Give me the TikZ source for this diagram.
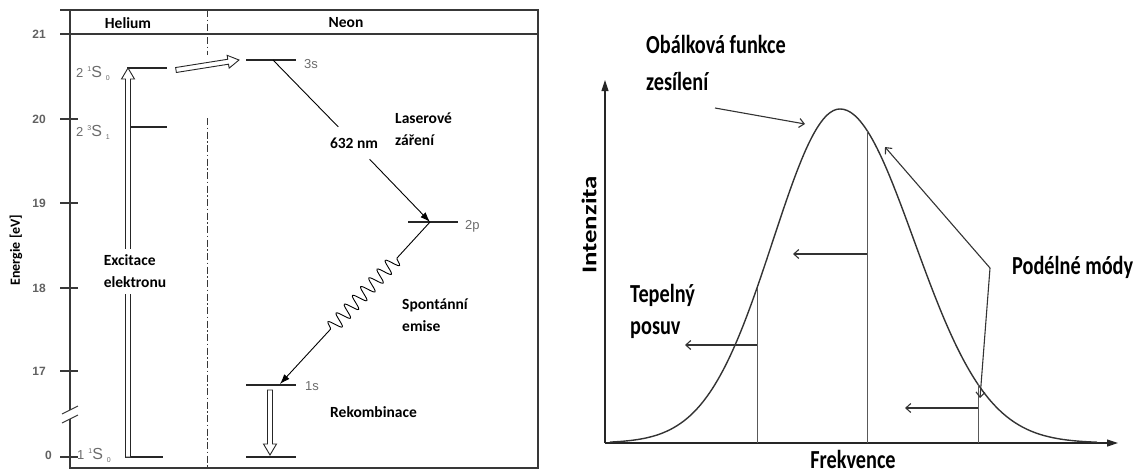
\documentclass[tikz,border=0pt]{standalone}
\usepackage{fontspec}
\setmainfont{Carlito}
\newfontfamily\squeezed[FakeStretch=0.78]{Carlito}
\newfontfamily\widened[FakeStretch=1.28]{Carlito}
\newfontfamily\arialish{Liberation Sans}
\usepackage{tikz}
\usetikzlibrary{arrows.meta,calc,decorations.pathmorphing}
\tikzset{
  frame/.style   ={draw=black!78, line width=1.3pt},
  dashdot/.style ={draw=black!78, line width=1pt,
                   dash pattern=on 7pt off 2.5pt on 1.5pt off 2.5pt},
  level/.style   ={draw=black!85, line width=1.1pt},
  ticklbl/.style ={font=\arialish\bfseries\fontsize{12}{14}\selectfont,
                   text=black!62, anchor=east, inner sep=0pt},
  statetxt/.style={font=\arialish\fontsize{13}{15}\selectfont,
                   text=black!58, anchor=west, inner sep=0pt},
  nelbl/.style   ={font=\arialish\fontsize{13}{15}\selectfont,
                   text=black!58, anchor=west, inner sep=0pt},
  lbl/.style     ={font=\bfseries\fontsize{15.5}{22}\selectfont,
                   align=left, inner sep=1pt},
  biglbl/.style  ={font=\squeezed\bfseries\fontsize{26}{37}\selectfont,
                   align=left, inner sep=0pt},
  hollowarr/.style={draw=black!85, fill=white, line width=0.9pt,
                   line join=miter},
  laser/.style   ={-{Latex[length=10pt,width=7pt]}, line width=0.9pt},
  axis/.style    ={-{Triangle[length=11pt,width=7pt]}, line width=1.1pt,
                   draw=black!85},
  note/.style    ={line width=1.1pt, draw=black!80},
  barb/.style    ={-{Straight Barb[length=5pt,width=9pt]}},
  mode/.style    ={draw=black!65, line width=1pt},
  curve/.style   ={draw=black!80, line width=1.4pt},
}
% term symbol  2 ^1S _0
\newcommand\term[3]{#1\hspace{4pt}\raisebox{6pt}{\fontsize{7}{8}\selectfont #2}%
  {\fontsize{16}{18}\selectfont S}\hspace{4pt}\raisebox{-3pt}{\fontsize{7}{8}\selectfont #3}}
% hollow (outlined) arrow from #1 to #2
\newcommand\hollowarrow[2]{%
  \path ($(#2)!11pt!(#1)$) coordinate (hbase);
  \draw[hollowarr] ($(#1)!2.5pt!90:(#2)$) -- ($(hbase)!2.5pt!-90:(#1)$)
    -- ($(hbase)!6.5pt!-90:(#1)$) -- (#2) -- ($(hbase)!6.5pt!90:(#1)$)
    -- ($(hbase)!2.5pt!90:(#1)$) -- ($(#1)!2.5pt!-90:(#2)$) -- cycle;
}

\begin{document}
\begin{tikzpicture}[x=1pt, y=-1pt]
  \useasboundingbox (0,0) rectangle (1147,475);

  % ---- energy levels He-Ne ----
  \draw[frame] (60,10) -- (538,10) -- (538,468) -- (70,468) -- (70,419);
  \draw[frame] (70,410) -- (70,10);
  \draw[frame] (60,34) -- (538,34);
  \draw[frame, line width=1pt] (62,414) -- (78,406) (62,423) -- (78,415);
  \draw[dashdot] (207,10) -- (207,55);
  \draw[dashdot] (207,118) -- (207,468);
  \node[lbl] (hel) at (128,23) {Helium};
  \node[lbl] (neo) at (346,23) {Neon};
  \node[lbl, font=\bfseries\fontsize{14}{16}\selectfont, rotate=90] (en) at (16,250) {Energie [eV]};

  \foreach \v/\y in {21/34, 20/119, 19/203, 18/288, 17/371}{
    \draw[frame] (60,\y) -- (78,\y);
    \node[ticklbl, name=t\v] at (46,\y) {\v};
  }
  \draw[frame] (60,457) -- (78,457);
  \node[ticklbl] (t0) at (52,455) {0};

  % helium levels
  \draw[level] (127,68) -- (167,68);
  \draw[level] (127,127) -- (167,127);
  \draw[level] (125,457) -- (163,457);
  \node[statetxt] (s21) at (76,73) {\term{2}{1}{0}};
  \node[statetxt] (s23) at (76,132) {\term{2}{3}{1}};
  \node[statetxt] (s11) at (77,455) {\term{1}{1}{0}};
  \coordinate (hegr) at (128,457);
  \coordinate (hex) at (128,68);
  \hollowarrow{hegr}{hex}
  \node[lbl, fill=white, inner ysep=6pt] (exc) at (135,271) {Excitace\\elektronu};

  % transfer He -> Ne
  \coordinate (tra) at (176,70);
  \coordinate (trb) at (239,60);
  \hollowarrow{tra}{trb}

  % neon levels
  \draw[level] (246,60) -- (296,60);
  \draw[level] (408,222) -- (458,222);
  \draw[level] (246,385) -- (296,385);
  \draw[level] (246,457) -- (296,457);
  \node[nelbl] (l3s) at (304,64) {3s};
  \node[nelbl] (l2p) at (465,226) {2p};
  \node[nelbl] (l1s) at (305,386) {1s};
  \coordinate (n3s) at (273,60);
  \coordinate (n2p) at (430,222);
  \coordinate (n1s) at (280,384);
  \coordinate (n1sb) at (270,390);
  \coordinate (ngr) at (270,455);

  \node[lbl, minimum height=32pt, minimum width=54pt] (nm) at (354,143) {632 nm};
  \draw[line width=0.9pt] (n3s) -- (nm);
  \draw[laser] (nm) -- (n2p);
  \node[lbl, anchor=west] (las) at (394,129) {Laserové\\záření};

  \coordinate (w1) at (397,258);
  \coordinate (w2) at (327,333);
  \draw[laser, decoration={snake, amplitude=7pt, segment length=12pt}]
    (n2p) -- (w1) decorate {-- (w2)} -- (n1s);
  \node[lbl, anchor=west] (spo) at (401,315) {Spontánní\\emise};

  \hollowarrow{n1sb}{ngr}
  \node[lbl, anchor=west] (rek) at (329,412) {Rekombinace};

  % ---- gain curve and modes ----
  \coordinate (org) at (605,443);
  \coordinate (ytip) at (605,80);
  \coordinate (xtip) at (1118,443);
  \draw[axis] (org) -- (ytip);
  \draw[axis] (org) -- (xtip);
  \draw[curve] plot[domain=610:840, samples=70, smooth]
      (\x, {443-334*exp(-0.5*((\x-840)/67)*((\x-840)/67))})
    -- plot[domain=840:1097, samples=70, smooth]
      (\x, {443-334*exp(-0.5*((\x-840)/74)*((\x-840)/74))});

  \coordinate (m1t) at (757,288);
  \coordinate (m2t) at (867,130.5);
  \coordinate (m3t) at (978,384.3);
  \draw[mode] (m1t) -- (m1t |- org);
  \draw[mode] (m2t) -- (m2t |- org);
  \draw[mode] (m3t) -- (m3t |- org);

  \coordinate (a1) at (757,345);  \coordinate (b1) at (685,345);
  \coordinate (a2) at (867,254);  \coordinate (b2) at (793,254);
  \coordinate (a3) at (978,408);  \coordinate (b3) at (905,408);
  \foreach \i in {1,2,3}
    \draw[note, barb] (a\i) -- (b\i);

  \node[biglbl, anchor=west] (obal) at (646,63) {Obálková funkce\\zesílení};
  \coordinate (oa) at (715,108);
  \coordinate (ob) at (805,124);
  \draw[note, barb] (oa) -- (ob);

  \node[biglbl, anchor=west] (pod) at (1012,267) {Podélné módy};
  \coordinate (pmj) at (990,268);
  \coordinate (pma) at (885,147);
  \coordinate (pmb) at (980,398);
  \draw[note, barb] (pmj) -- (pma);
  \draw[note, barb] (pmj) -- (pmb);

  \node[biglbl, anchor=west, font=\squeezed\bfseries\fontsize{26}{32}\selectfont] (tep) at (630,311) {Tepelný\\posuv};
  \node[biglbl] (frq) at (853,459) {Frekvence};
  \node[biglbl, font=\widened\bfseries\fontsize{21}{24}\selectfont, rotate=90] (int) at (589,225) {Intenzita};
\end{tikzpicture}
\end{document}
